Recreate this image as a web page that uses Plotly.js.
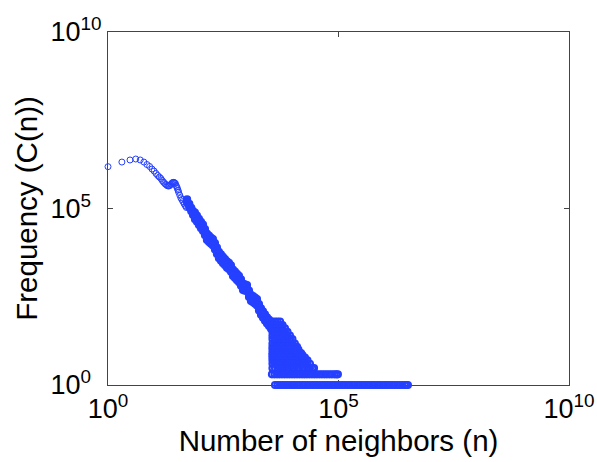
<!DOCTYPE html>
<html><head><meta charset="utf-8">
<script src="https://cdn.plot.ly/plotly-3.0.1.min.js"></script>
<style>html,body{margin:0;padding:0;background:#fff}#chart{width:597px;height:462px}</style>
</head><body><div id="chart"></div>
<script>
// ---- data (n = number of neighbors, C = frequency) ----
const headN = [1,2,3,4,5,6,7,8,9,10,11,12,13,14,15,16,17,18,19,20,21,22,23,24,25,26,27,28,29,30,31,32,33,34,36,38,40,42,45,48,50];
const headC = [1.53e6,2.07e6,2.37e6,2.52e6,2.37e6,2.07e6,1.76e6,1.55e6,1.31e6,1.15e6,9.8e5,8.6e5,7.8e5,7.1e5,6.2e5,5.6e5,5.1e5,4.8e5,4.5e5,4.35e5,4.35e5,4.5e5,4.8e5,5.1e5,5.4e5,5.5e5,5.5e5,5.3e5,5.1e5,4.5e5,4.1e5,3.7e5,3.3e5,2.9e5,2.4e5,2.0e5,1.8e5,1.58e5,1.34e5,1.18e5,1.07e5];

const bandN   = [52,58,64,70,77,85,94,104,115,127,140,155,171,189,209,231,255,282,312,345,381,421,465,514,568,628,694,767,848,937,1035,1144,1264,1397,1544,1706,1885,2083,2302,2544,2811,3107,3433,3794];
const bandHi  = [1.82e5,1.35e5,1.05e5,8.5e4,7.6e4,6.3e4,5.1e4,4.2e4,3.5e4,2.6e4,1.95e4,1.7e4,1.51e4,1.35e4,1.05e4,7800,5900,5000,4300,3700,3200,2900,2450,1860,1620,1410,1230,980,740,710,680,470,360,330,300,270,195,148,123,100,83,71,59,49];
const bandMid = [1.62e5,1.2e5,9.3e4,7.4e4,6.2e4,5.1e4,4.2e4,3.4e4,2.8e4,2.14e4,1.58e4,1.38e4,1.23e4,1.1e4,8500,6300,4800,4100,3500,3000,2600,2350,2000,1510,1320,1150,1000,790,600,575,550,380,295,270,245,220,158,120,100,81,68,58,48,40];
const bandLo  = [1.45e5,1.07e5,8.3e4,6.5e4,5.0e4,4.2e4,3.4e4,2.75e4,2.3e4,1.74e4,1.29e4,1.12e4,1.0e4,8900,6900,5100,3900,3300,2800,2450,2100,1900,1620,1230,1070,930,810,650,490,470,450,310,240,220,200,180,129,98,81,66,55,47,39,32];

// low-count cloud: for each count value, the n values where circles appear
const nAtC63 = [3700,4200,4750,5400];
const nAtC50 = [3700,4200,4750,5400,6100];
const nAtC40 = [3700,4200,4750,5400,6100,6900];
const nAtC32 = [3700,4200,4750,5400,6100,6900,7800];
const nAtC25 = [3700,4200,4750,5400,6100,6900,7800,8850];
const nAtC20 = [3700,4200,4750,5400,6100,6900,7800,8850,10000];
const nAtC15 = [3700,4200,4750,5400,6100,6900,7800,8850,10000,11300];
const nAtC12 = [3700,4200,4750,5400,6100,6900,7800,8850,10000,11300,12600];
const nAtC10 = [3700,4200,4750,5400,6100,6900,7800,8850,10000,11300,12800,13500];
const nAtC8  = [3700,4200,4750,5400,6100,6900,7800,8850,10000,11300,12800,14500,15400];
const nAtC7  = [3700,4200,4750,5400,6100,6900,7800,8850,10000,11300,12800,14500,16500];
const nAtC6  = [3700,4200,4750,5400,6100,6900,7800,8850,10000,11300,12800,14500,16500,18700];
const nAtC5  = [3700,4200,4750,5400,6100,6900,7800,8850,10000,11300,12800,14500,16500,18700,21200];
const nAtC4  = [3700,4200,4750,5400,6100,6900,7800,8850,10000,11300,12800,14500,16500,18700,21200,24000];
const nAtC3  = [3700,4200,4750,5400,6100,6900,7800,8850,10000,11300,12800,14500,16500,18700,21200,24000,27200,29400];
const nAtC2  = [3600,4100,4650,5250,5950,6750,7650,8650,9800,11100,12600,14300,16200,18300,20700,23500,26600,30100,34100,38600,43700,49500,56000,63500,71900,81400,90000,97000];
const nAtC1  = [4200,4750,5400,6100,6900,7800,8850,10000,11300,12800,14500,16500,18700,21200,24000,27200,30800,34900,39500,44800,50700,57400,65000,73700,83500,94500,107000,121000,137000,155000,176000,199000,226000,256000,290000,328000,372000,421000,477000,540000,612000,693000,785000,889000,1010000,1140000,1290000,1460000,1660000,1880000,2130000,2410000,2750000,3000000,3200000];

const tickVals = [1, 1e5, 1e10];
const xTickText = ['10<sup>0</sup>', '10<sup>5</sup>', '10<sup>10</sup>'];
const yTickText = ['10<sup>0&nbsp;&nbsp;</sup>', '10<sup>5&nbsp;&nbsp;</sup>', '10<sup>10</sup>'];

// ---- build point lists ----
const hx = [], hy = [], dx = [], dy = [];
function addPts(X, Y, nArr, cArr) { for (let i = 0; i < nArr.length; i++) { X.push(nArr[i]); Y.push(cArr[i]); } }
function addRow(X, Y, nArr, c) { for (let i = 0; i < nArr.length; i++) { X.push(nArr[i]); Y.push(c); } }
addPts(hx, hy, headN, headC);
addPts(dx, dy, bandN, bandHi);
addPts(dx, dy, bandN, bandMid);
addPts(dx, dy, bandN, bandLo);
const rows = [[nAtC63,63],[nAtC50,50],[nAtC40,40],[nAtC32,32],[nAtC25,25],[nAtC20,20],[nAtC15,15],[nAtC12,12],[nAtC10,10],[nAtC8,8],[nAtC7,7],[nAtC6,6],[nAtC5,5],[nAtC4,4],[nAtC3,3],[nAtC2,2],[nAtC1,1]];
rows.forEach(r => addRow(dx, dy, r[0], r[1]));

const FONT = 'Liberation Sans, Arial, Helvetica, sans-serif';
const BLUE = '#2540ff';
const axisCommon = {
  type: 'log', range: [0, 10], tickvals: tickVals,
  ticks: 'inside', ticklen: 5, tickwidth: 1, tickcolor: '#444',
  showline: true, linecolor: '#444', linewidth: 1, mirror: 'ticks',
  showgrid: false, zeroline: false, layer: 'below traces',
  tickfont: {family: FONT, size: 27, color: '#000'},
  automargin: false
};

const data = [
  {
    type: 'scatter', mode: 'markers', x: hx, y: hy, cliponaxis: false,
    marker: {symbol: 'circle-open', size: 6, color: BLUE, line: {width: 1, color: BLUE}},
    hoverinfo: 'skip'
  },
  {
    type: 'scatter', mode: 'markers', x: dx, y: dy, cliponaxis: false,
    marker: {symbol: 'circle-open', size: 6, color: BLUE, line: {width: 2.2, color: BLUE}},
    hoverinfo: 'skip'
  }
];

const layout = {
  width: 597, height: 462,
  margin: {l: 108, r: 28, t: 32, b: 77, pad: 0},
  paper_bgcolor: '#fff', plot_bgcolor: '#fff',
  showlegend: false,
  font: {family: FONT, color: '#000'},
  xaxis: Object.assign({}, axisCommon, {
    ticktext: xTickText,
    title: {text: 'Number of neighbors (n)', font: {family: FONT, size: 29.5, color: '#000'}, standoff: 4}
  }),
  yaxis: Object.assign({}, axisCommon, {
    ticktext: yTickText,
    title: {text: 'Frequency (C(n))', font: {family: FONT, size: 29.5, color: '#000'}, standoff: 4}
  })
};

Plotly.newPlot('chart', data, layout, {staticPlot: true, displayModeBar: false});
</script></body></html>
